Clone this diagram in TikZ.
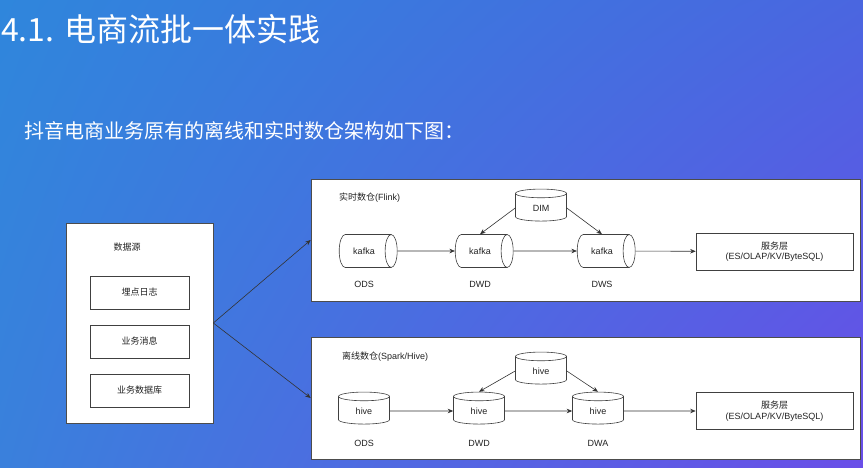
\documentclass[tikz,border=0pt]{standalone}
\usepackage{fontspec}
\setmainfont{Liberation Sans}
\newfontfamily\cjk{Noto Sans CJK SC}
\usetikzlibrary{shapes.geometric,arrows.meta,shadings}
\definecolor{bgtl}{RGB}{47,134,220}
\definecolor{bgtr}{RGB}{74,102,224}
\definecolor{bgbl}{RGB}{58,128,220}
\definecolor{bgbr}{RGB}{106,78,232}
\definecolor{ink}{RGB}{34,34,34}
\begin{document}
\begin{tikzpicture}[x=1pt, y=-1pt, >={Stealth[length=5.5pt,width=4.5pt]},
  font=\fontsize{9}{10.5}\selectfont,
  panel/.style={draw=black!70, fill=white, line width=0.6pt, inner sep=0pt,
    minimum width=549pt, minimum height=122pt},
  srcbox/.style={draw=black!70, fill=white, line width=0.6pt, inner sep=0pt,
    minimum width=147pt, minimum height=200pt},
  item/.style={draw=black!75, fill=white, line width=0.6pt, text=ink,
    minimum width=99pt, minimum height=33pt},
  serve/.style={draw=black!75, fill=white, line width=0.6pt, text=ink, align=center,
    minimum width=157pt, minimum height=37pt, inner sep=1pt},
  kafka/.style={cylinder, draw=black!75, fill=white, line width=0.6pt, text=ink,
    aspect=1.4, minimum width=33pt, minimum height=58pt, inner sep=1pt},
  hive/.style={cylinder, shape border rotate=90, draw=black!75, fill=white, line width=0.6pt,
    text=ink, aspect=0.47, minimum width=51pt, minimum height=32pt, inner sep=1pt},
  tier/.style={text=ink, inner sep=0pt},
  panelname/.style={text=ink, anchor=west, inner sep=0pt},
  flow/.style={->, draw=black!80, line width=0.6pt},
]

% ---------------------------------------------------------------- background
\shade[upper left=bgtl, upper right=bgtr, lower left=bgbl, lower right=bgbr]
  (0,0) rectangle (863,468);
\node[anchor=west, inner sep=0pt, text=white, font=\cjk\fontsize{32}{36}\selectfont]
  (title) at (1,29) {4.1. 电商流批一体实践};
\node[anchor=west, inner sep=0pt, text=white, font=\cjk\fontsize{20}{24}\selectfont]
  (subtitle) at (24,131) {抖音电商业务原有的离线和实时数仓架构如下图：};

% ---------------------------------------------------------------- sources
\node[srcbox] (ds) at (139.5,323) {};
\node[tier] (dsname) at (127,247) {\cjk 数据源};
\node[item] (s1) at (139.5,292.5) {\cjk 埋点日志};
\node[item] (s2) at (139.5,341.5) {\cjk 业务消息};
\node[item] (s3) at (139.5,390.5) {\cjk 业务数据库};

% ---------------------------------------------------------------- realtime
\node[panel] (rt) at (585.5,240) {};
\node[panelname] (rtname) at (339,198) {{\cjk 实时数仓}(Flink)};
\node[kafka] (k1) at (364,251) {kafka};
\node[kafka] (k2) at (480,251) {kafka};
\node[kafka] (k3) at (602,251) {kafka};
\node[hive] (dim) at (541,208) {DIM};
\node[serve] (sv1) at (774.5,251.5) {{\cjk 服务层}\\(ES/OLAP/KV/ByteSQL)};
\node[tier] (k1n) at (364,284) {ODS};
\node[tier] (k2n) at (480,284) {DWD};
\node[tier] (k3n) at (602,284) {DWS};
\draw[flow] (k1) -- (k2);
\draw[flow] (k2) -- (k3);
\draw[flow] (k3) -- (sv1);
\draw[flow] (dim.west) -- (k2.north);
\draw[flow] (dim.east) -- (k3.north);

% ---------------------------------------------------------------- offline
\node[panel] (off) at (585.5,398) {};
\node[panelname] (offname) at (342,357) {{\cjk 离线数仓}(Spark/Hive)};
\node[hive] (h1) at (364,411) {hive};
\node[hive] (h2) at (479,411) {hive};
\node[hive] (h3) at (598,411) {hive};
\node[hive] (hdim) at (541,371) {hive};
\node[serve] (sv2) at (774.5,411) {{\cjk 服务层}\\(ES/OLAP/KV/ByteSQL)};
\node[tier] (h1n) at (364,443) {ODS};
\node[tier] (h2n) at (479,443) {DWD};
\node[tier] (h3n) at (598,443) {DWA};
\draw[flow] (h1) -- (h2);
\draw[flow] (h2) -- (h3);
\draw[flow] (h3) -- (sv2);
\draw[flow] (hdim.west) -- (h2.north);
\draw[flow] (hdim.east) -- (h3.north);

% ---------------------------------------------------------------- fan out
\draw[flow] (ds.east) -- (rt.west);
\draw[flow] (ds.east) -- (off.west);
\end{tikzpicture}
\end{document}
